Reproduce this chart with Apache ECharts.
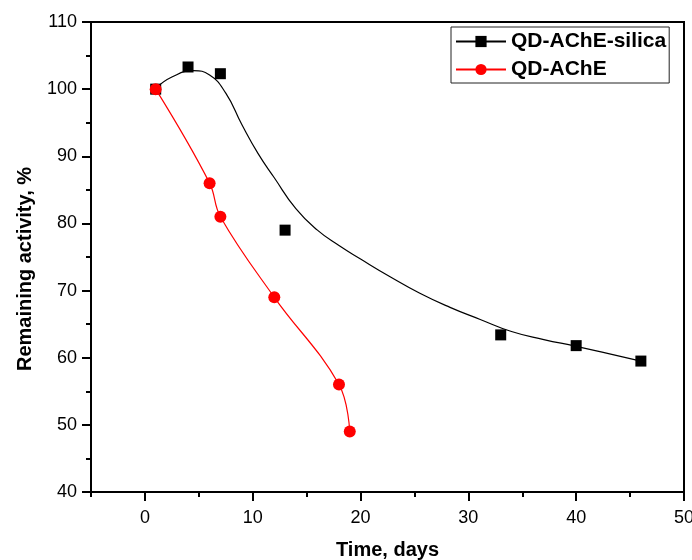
<!DOCTYPE html>
<html>
<head>
<meta charset="utf-8">
<script src="https://cdn.jsdelivr.net/npm/echarts@6/dist/echarts.min.js"></script>
<style>html,body{margin:0;padding:0;background:#fff}#c{width:692px;height:560px}</style>
</head>
<body>
<div id="c"></div>
<script>
// Measured points
const silicaX = [1, 4, 7, 13, 33, 40, 46];
const silicaY = [100, 103.3, 102.3, 79, 63.4, 61.8, 59.5];
const freeX = [1, 6, 7, 12, 18, 19];
const freeY = [100, 86, 81, 69, 56, 49];
// Fitted curve for QD-AChE-silica
const fitX = [1, 2.5, 4.5, 6, 7.5, 9, 10.5, 12, 14, 16, 18, 20, 22.7, 25.5, 28.3, 31.1, 34, 37, 40, 43, 46];
const fitY = [100.1, 101.8, 102.75, 102.1, 99.4, 94.7, 90.4, 86.8, 82.2, 79.0, 76.7, 74.7, 72.1, 69.6, 67.5, 65.7, 63.9, 62.7, 61.7, 60.6, 59.5];
// Axis ticks
const xMajorTicks = [0, 10, 20, 30, 40, 50];
const seriesNames = ['QD-AChE-silica', 'QD-AChE'];

const zip = (a, b) => a.map((v, i) => [v, b[i]]);
const FONT = 'Liberation Sans, Arial, sans-serif';

const chart = echarts.init(document.getElementById('c'));
chart.setOption({
  animation: false,
  backgroundColor: '#fff',
  grid: { left: 91, right: 8, top: 22, bottom: 68, show: true, borderColor: '#000', borderWidth: 2,
          containLabel: false, outerBoundsMode: 'none' },
  legend: {
    data: seriesNames,
    orient: 'vertical',
    left: 451, top: 27,
    borderColor: '#222', borderWidth: 1,
    padding: [4, 3, 3, 4],
    itemWidth: 50, itemHeight: 14, itemGap: 7,
    textStyle: { fontFamily: FONT, fontSize: 21, fontWeight: 'bold', color: '#000' },
    selectedMode: false
  },
  xAxis: [{
    type: 'value', min: -5, max: 50, interval: 5,
    name: 'Time, days', nameLocation: 'middle', nameGap: 48,
    nameTextStyle: { fontFamily: FONT, fontSize: 20, fontWeight: 'bold', color: '#000' },
    axisLine: { show: true, onZero: false, lineStyle: { color: '#000', width: 2 } },
    axisTick: { show: true, inside: false, length: 5, lineStyle: { color: '#000', width: 2 } },
    axisLabel: { fontFamily: FONT, fontSize: 18, color: '#000', margin: 17,
      formatter: v => (v % 10 === 0 ? String(v) : '') },
    splitLine: { show: false }
  }, {
    type: 'value', min: -5, max: 50, position: 'bottom',
    axisLine: { show: false },
    axisTick: { show: true, inside: false, length: 9, customValues: xMajorTicks, lineStyle: { color: '#000', width: 2 } },
    axisLabel: { show: false },
    splitLine: { show: false }
  }],
  yAxis: {
    type: 'value', min: 40, max: 110, interval: 10,
    name: 'Remaining activity, %', nameLocation: 'middle', nameGap: 56,
    nameTextStyle: { fontFamily: FONT, fontSize: 20, fontWeight: 'bold', color: '#000', padding: [0, 24, 0, 0] },
    axisLine: { show: true, onZero: false, lineStyle: { color: '#000', width: 2 } },
    axisTick: { show: true, inside: false, length: 9, lineStyle: { color: '#000', width: 2 } },
    minorTick: { show: true, splitNumber: 2, length: 5, lineStyle: { color: '#000', width: 2 } },
    axisLabel: { fontFamily: FONT, fontSize: 18, color: '#000', margin: 14 },
    splitLine: { show: false }
  },
  series: [
    {
      name: seriesNames[0], type: 'line', smooth: 0.5,
      data: zip(fitX, fitY),
      symbol: 'rect', symbolSize: 11, showSymbol: false,
      lineStyle: { color: '#000', width: 1.2 },
      itemStyle: { color: '#000' },
      z: 2
    },
    {
      name: 'silica points', type: 'scatter',
      data: zip(silicaX, silicaY),
      symbol: 'rect', symbolSize: 11,
      itemStyle: { color: '#000', opacity: 1 },
      z: 3
    },
    {
      name: seriesNames[1], type: 'line', smooth: 0.4,
      data: zip(freeX, freeY),
      symbol: 'circle', symbolSize: 12, showSymbol: true,
      lineStyle: { color: '#ff0000', width: 1.2 },
      itemStyle: { color: '#ff0000', opacity: 1 },
      z: 4
    }
  ]
});
</script>
</body>
</html>
